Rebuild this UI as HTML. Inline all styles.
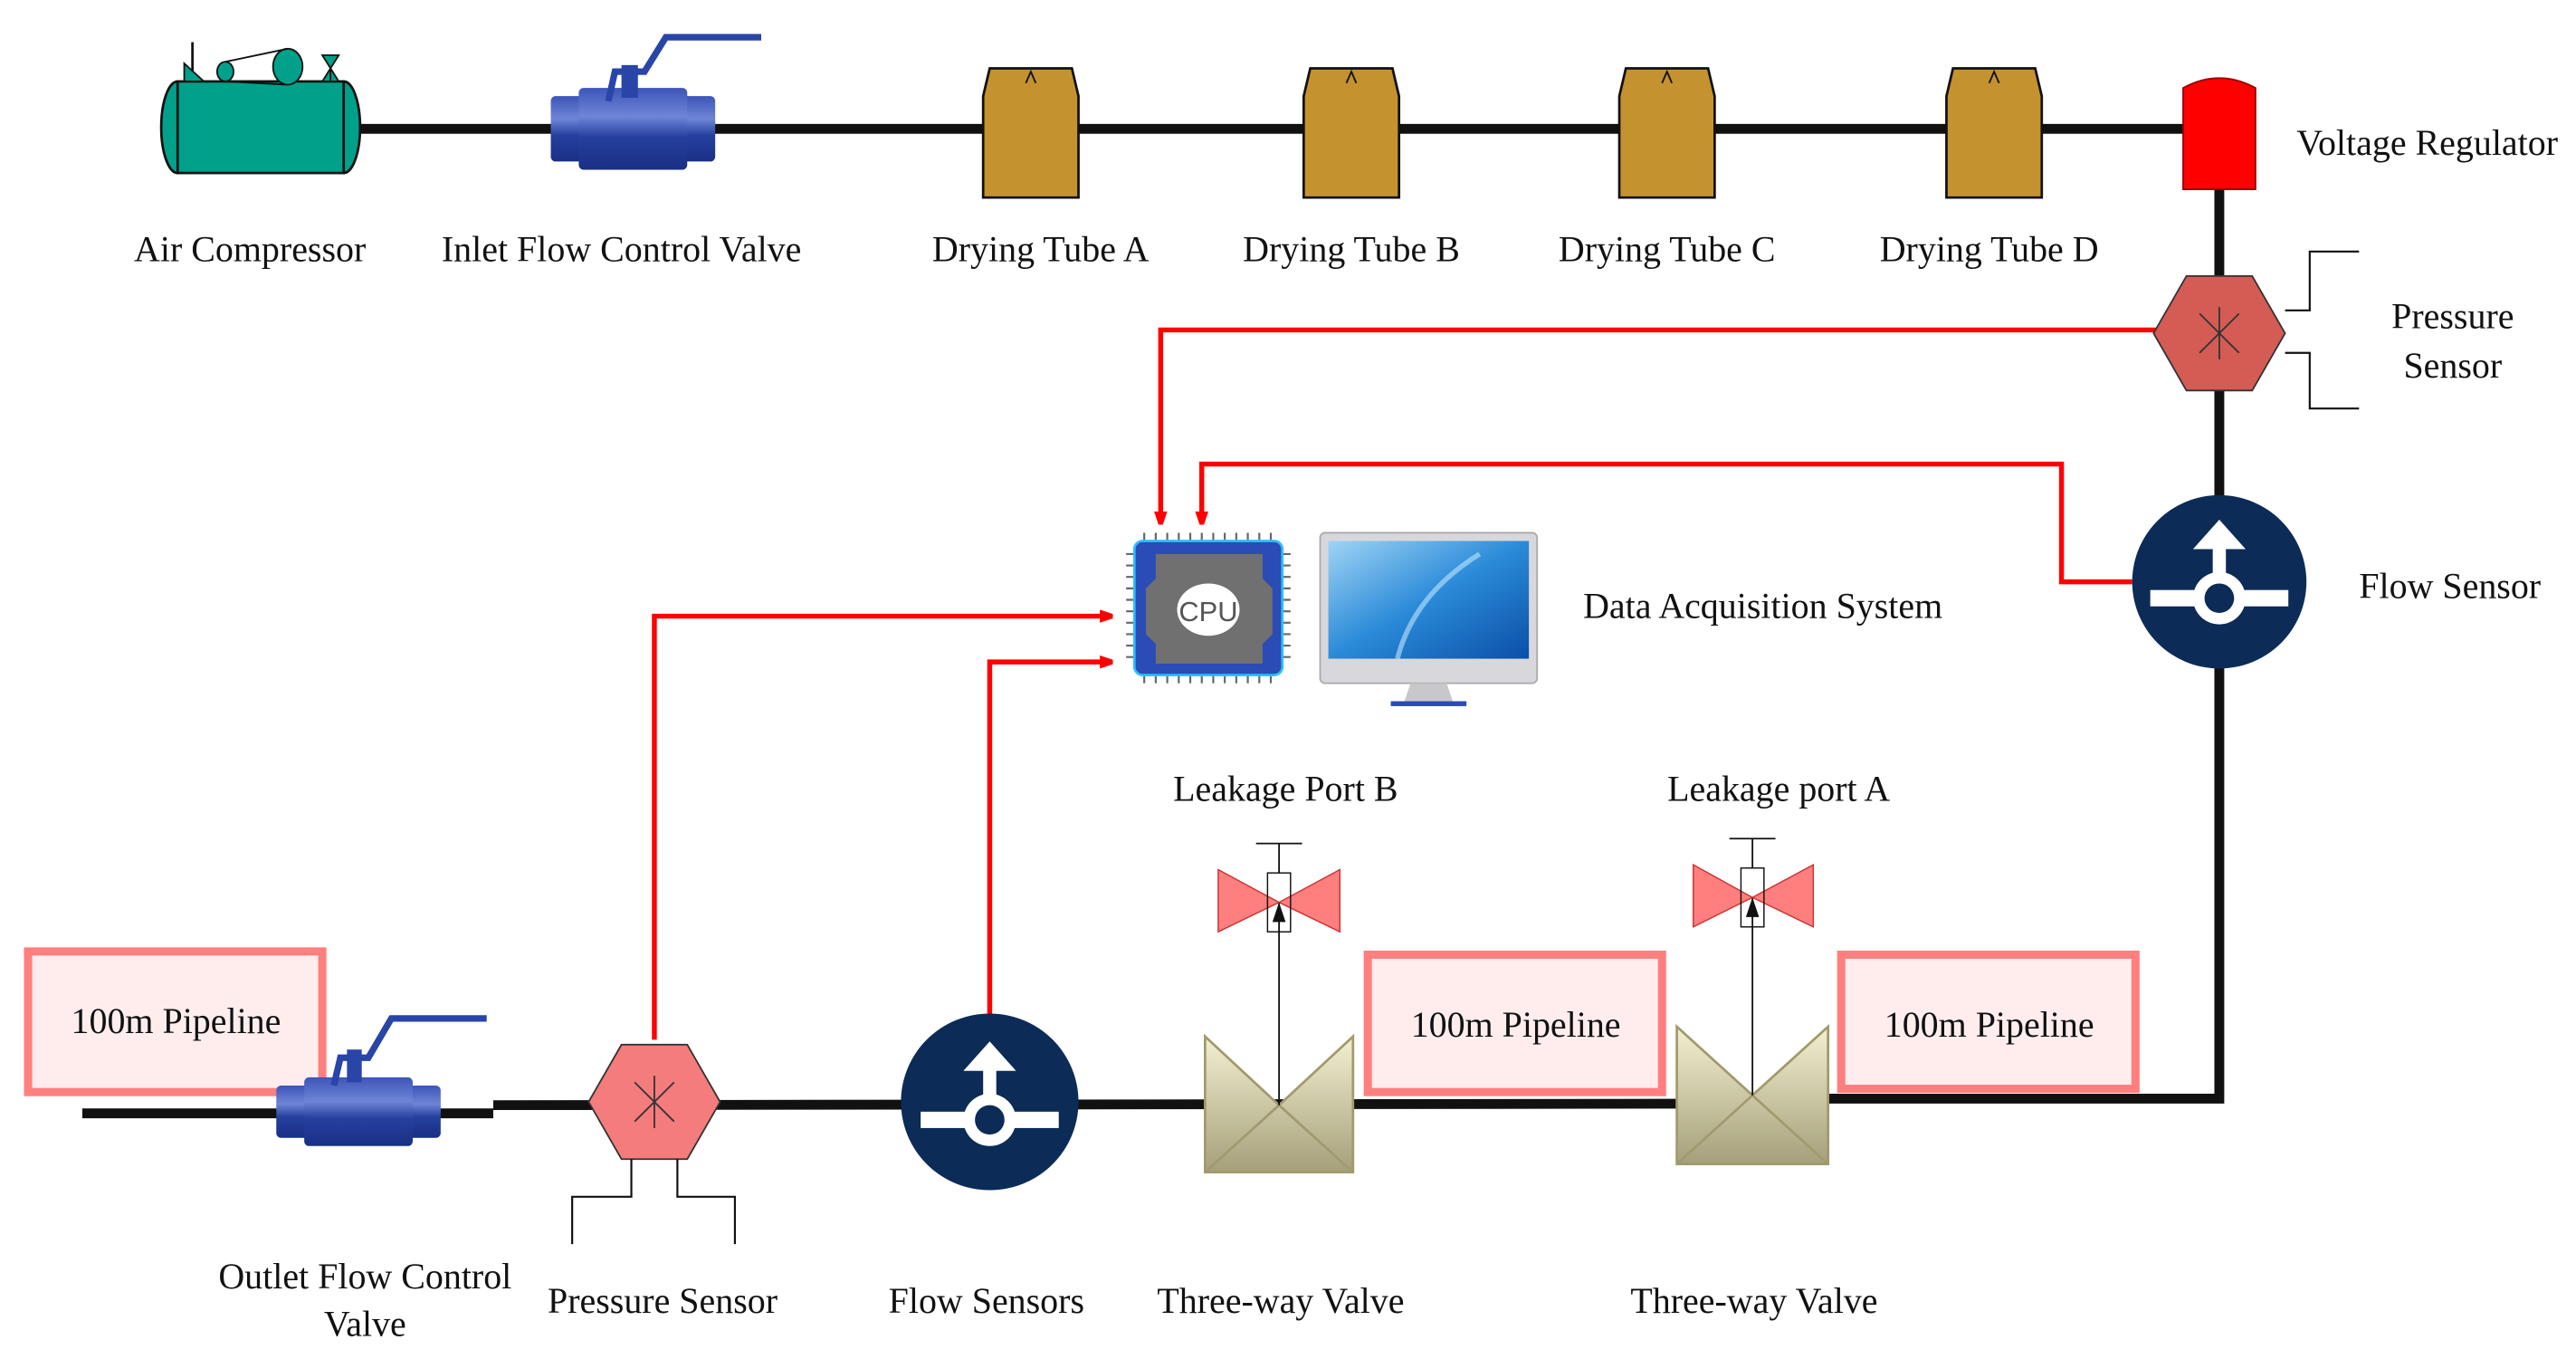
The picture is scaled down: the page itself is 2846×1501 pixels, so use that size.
<!DOCTYPE html>
<html><head><meta charset="utf-8"><style>
html,body{margin:0;padding:0;background:#fff;}
svg{display:block;}
text{font-family:"Liberation Serif",serif;font-size:22px;fill:#111;}
</style></head><body>
<svg width="2846" height="1501" viewBox="0 0 1560 822.7" preserveAspectRatio="none" xmlns="http://www.w3.org/2000/svg">
<defs>
<linearGradient id="bl" x1="0" y1="0" x2="0" y2="1"><stop offset="0" stop-color="#3d55b8"/><stop offset="0.35" stop-color="#6f85d6"/><stop offset="0.6" stop-color="#25409e"/><stop offset="1" stop-color="#1a2f85"/></linearGradient>
<linearGradient id="tv" x1="0" y1="0" x2="0" y2="1"><stop offset="0" stop-color="#f3f0d2"/><stop offset="1" stop-color="#a5a07a"/></linearGradient>
<linearGradient id="mon" x1="0" y1="0" x2="1" y2="1"><stop offset="0" stop-color="#9fd4f5"/><stop offset="0.5" stop-color="#2a8ad8"/><stop offset="1" stop-color="#0b4fa8"/></linearGradient>
<marker id="ar" markerWidth="8" markerHeight="8" refX="7" refY="4" orient="auto" markerUnits="userSpaceOnUse"><path d="M0,0 L12,4 L0,8 z" fill="#f00"/></marker>
</defs>
<g transform="translate(0.07,3.75) scale(0.9955,0.99)">
<!-- top pipe -->
<line x1="212" y1="75" x2="1340" y2="75" stroke="#111" stroke-width="6"/>
<!-- right pipe -->
<polyline points="1350,110 1350,668 1112,668" fill="none" stroke="#111" stroke-width="6"/>
<!-- bottom pipe -->
<line x1="50" y1="677" x2="300" y2="677" stroke="#111" stroke-width="6"/>
<line x1="300" y1="672" x2="1112" y2="671" stroke="#111" stroke-width="6"/>

<!-- Air compressor -->
<ellipse cx="108" cy="74" rx="10" ry="28" fill="#00a08a" stroke="#111" stroke-width="1.5"/>
<ellipse cx="209" cy="74" rx="10" ry="28" fill="#00a08a" stroke="#111" stroke-width="1.5"/>
<rect x="108" y="46" width="101" height="56" fill="#00a08a" stroke="#111" stroke-width="1.5"/>
<line x1="117" y1="22" x2="117" y2="46" stroke="#111" stroke-width="1.5"/>
<polygon points="112,35 112,46 124,46" fill="#00a08a" stroke="#111"/>
<ellipse cx="137" cy="40" rx="5" ry="6" fill="#00a08a" stroke="#111"/>
<ellipse cx="175" cy="37" rx="9" ry="11" fill="#00a08a" stroke="#111"/>
<line x1="137" y1="34" x2="175" y2="26" stroke="#111"/><line x1="137" y1="46" x2="175" y2="48" stroke="#111"/>
<polygon points="196,30 206,30 196,46 206,46" fill="#00a08a" stroke="#111"/>
<line x1="201" y1="46" x2="201" y2="38" stroke="#111"/>

<!-- Inlet valve -->
<rect x="335" y="55" width="100" height="40" rx="3" fill="url(#bl)"/>
<rect x="352" y="50" width="66" height="50" rx="3" fill="url(#bl)"/>
<rect x="378" y="36" width="10" height="20" fill="#2a45a8"/>
<polyline points="370,58 374,40 392,40 405,19 463,19" fill="none" stroke="#2a45a8" stroke-width="4"/>

<!-- Drying tubes -->
<g fill="#c4922f" stroke="#111" stroke-width="1.5">
<path d="M602,38 L652,38 L656,55 L656,117 L598,117 L598,55 Z"/>
<path d="M797,38 L847,38 L851,55 L851,117 L793,117 L793,55 Z"/>
<path d="M989,38 L1039,38 L1043,55 L1043,117 L985,117 L985,55 Z"/>
<path d="M1188,38 L1238,38 L1242,55 L1242,117 L1184,117 L1184,55 Z"/>
</g>
<g stroke="#111" stroke-width="1" fill="none">
<path d="M624,47 L627,40 L630,47"/><path d="M819,47 L822,40 L825,47"/><path d="M1011,47 L1014,40 L1017,47"/><path d="M1210,47 L1213,40 L1216,47"/>
</g>

<!-- Voltage regulator -->
<path d="M1328,50 Q1350,38 1372,50 L1372,112 L1328,112 Z" fill="#f00" stroke="#900" stroke-width="1"/>

<!-- top labels -->
<text x="152" y="156" text-anchor="middle">Air Compressor</text>
<text x="378" y="156" text-anchor="middle">Inlet Flow Control Valve</text>
<text x="633" y="156" text-anchor="middle">Drying Tube A</text>
<text x="822" y="156" text-anchor="middle">Drying Tube B</text>
<text x="1014" y="156" text-anchor="middle">Drying Tube C</text>
<text x="1210" y="156" text-anchor="middle">Drying Tube D</text>
<text x="1397" y="91">Voltage Regulator</text>

<!-- red signal lines -->
<g fill="none" stroke="#f00" stroke-width="3">
<polyline points="1312,198 706,198 706,316" marker-end="url(#ar)"/>
<polyline points="1297,352 1254,352 1254,280 731,280 731,316" marker-end="url(#ar)"/>
<polyline points="398,632 398,373 676,373" marker-end="url(#ar)"/>
<polyline points="602,617 602,401 676,401" marker-end="url(#ar)"/>
</g>

<!-- Right pressure sensor -->
<polygon points="1330,165 1370,165 1390,200 1370,235 1330,235 1310,200" fill="#d45c55" stroke="#333" stroke-width="1"/>
<g stroke="#333" stroke-width="1"><line x1="1338" y1="188" x2="1362" y2="212"/><line x1="1362" y1="188" x2="1338" y2="212"/><line x1="1350" y1="184" x2="1350" y2="216"/></g>
<polyline points="1390,186 1405,186 1405,150 1435,150" fill="none" stroke="#111" stroke-width="1.2"/>
<polyline points="1390,212 1405,212 1405,246 1435,246" fill="none" stroke="#111" stroke-width="1.2"/>
<text x="1492" y="197" text-anchor="middle">Pressure</text>
<text x="1492" y="227" text-anchor="middle">Sensor</text>

<!-- Right flow sensor -->
<circle cx="1350" cy="352" r="53" fill="#0c2b57"/>
<rect x="1308" y="357" width="84" height="10" fill="#fff"/>
<circle cx="1350" cy="362" r="16" fill="#fff"/><circle cx="1350" cy="362" r="9" fill="#0c2b57"/>
<rect x="1346" y="325" width="8" height="22" fill="#fff"/>
<polygon points="1334,332 1350,314 1366,332" fill="#fff"/>
<text x="1435" y="362">Flow Sensor</text>

<!-- CPU -->
<g stroke="#666" stroke-width="1.2">
<path d="M696,322v6M703,322v6M710,322v6M717,322v6M724,322v6M731,322v6M738,322v6M745,322v6M752,322v6M759,322v6M766,322v6M773,322v6"/>
<path d="M696,408v6M703,408v6M710,408v6M717,408v6M724,408v6M731,408v6M738,408v6M745,408v6M752,408v6M759,408v6M766,408v6M773,408v6"/>
<path d="M685,335h6M685,342h6M685,349h6M685,356h6M685,363h6M685,370h6M685,377h6M685,384h6M685,391h6M685,398h6"/>
<path d="M779,335h6M779,342h6M779,349h6M779,356h6M779,363h6M779,370h6M779,377h6M779,384h6M779,391h6M779,398h6"/>
</g>
<rect x="690" y="327" width="90" height="82" rx="5" fill="#2b4bb5" stroke="#2cc0ff" stroke-width="1.5"/>
<path d="M703,335 L768,335 L768,350 L774,356 L774,384 L768,390 L768,402 L703,402 L703,390 L697,384 L697,356 L703,350 Z" fill="#707070"/>
<ellipse cx="735" cy="369" rx="19" ry="16" fill="#fff"/>
<text x="735" y="376" text-anchor="middle" style="font-family:'Liberation Sans',sans-serif;font-size:17px;fill:#555">CPU</text>

<!-- Monitor -->
<rect x="803" y="322" width="132" height="92" rx="3" fill="#d8d8dc" stroke="#aaa"/>
<rect x="808" y="327" width="122" height="72" fill="url(#mon)"/>
<path d="M850,399 Q860,360 900,335" fill="none" stroke="#bfe6ff" stroke-width="3" opacity="0.6"/>
<polygon points="858,414 880,414 884,426 854,426" fill="#c8c8cc"/>
<rect x="846" y="425" width="46" height="3" fill="#2b4bb5"/>
<text x="963" y="374">Data Acquisition System</text>

<!-- Pipeline boxes -->
<g fill="#ffeded" stroke="#ff7f7f" stroke-width="5">
<rect x="17" y="578" width="179" height="86"/>
<rect x="832" y="580" width="179" height="84"/>
<rect x="1120" y="580" width="179" height="82"/>
</g>
<text x="107" y="628" text-anchor="middle">100m Pipeline</text>
<text x="922" y="630" text-anchor="middle">100m Pipeline</text>
<text x="1210" y="630" text-anchor="middle">100m Pipeline</text>

<!-- Outlet valve -->
<rect x="168" y="660" width="100" height="32" rx="3" fill="url(#bl)"/>
<rect x="185" y="655" width="66" height="42" rx="3" fill="url(#bl)"/>
<rect x="211" y="638" width="9" height="20" fill="#2a45a8"/>
<polyline points="203,660 207,643 224,643 238,619 296,619" fill="none" stroke="#2a45a8" stroke-width="4"/>

<!-- Bottom pressure sensor -->
<polygon points="378,635 418,635 438,670 418,705 378,705 358,670" fill="#f47c7c" stroke="#333" stroke-width="1"/>
<g stroke="#333" stroke-width="1"><line x1="386" y1="658" x2="410" y2="682"/><line x1="410" y1="658" x2="386" y2="682"/><line x1="398" y1="654" x2="398" y2="686"/></g>
<polyline points="384,705 384,728 348,728 348,757" fill="none" stroke="#111" stroke-width="1.2"/>
<polyline points="412,705 412,728 447,728 447,757" fill="none" stroke="#111" stroke-width="1.2"/>

<!-- Bottom flow sensor -->
<circle cx="602" cy="670" r="54" fill="#0c2b57"/>
<rect x="560" y="676" width="84" height="10" fill="#fff"/>
<circle cx="602" cy="681" r="16" fill="#fff"/><circle cx="602" cy="681" r="9" fill="#0c2b57"/>
<rect x="598" y="644" width="8" height="22" fill="#fff"/>
<polygon points="586,651 602,633 618,651" fill="#fff"/>

<!-- Three-way valves -->
<g stroke="#a09a6e" stroke-width="1.5">
<path d="M733,630 L778,672 L823,630 L823,713 L733,713 Z" fill="url(#tv)"/>
<path d="M733,713 L778,672 L823,713" fill="none"/>
<path d="M1020,624 L1066,666 L1112,624 L1112,708 L1020,708 Z" fill="url(#tv)"/>
<path d="M1020,708 L1066,666 L1112,708" fill="none"/>
</g>
<!-- stems & leakage valves -->
<g stroke="#111" stroke-width="1">
<line x1="778" y1="672" x2="778" y2="548"/>
<line x1="1066" y1="666" x2="1066" y2="545"/>
<line x1="778" y1="512" x2="778" y2="530"/><line x1="764" y1="512" x2="792" y2="512"/>
<line x1="1066" y1="509" x2="1066" y2="527"/><line x1="1052" y1="509" x2="1080" y2="509"/>
</g>
<g fill="#ff7f7f" stroke="#c33" stroke-width="0.8">
<polygon points="741,528 778,548 741,566"/><polygon points="815,528 778,548 815,566"/>
<polygon points="1030,525 1066,545 1030,563"/><polygon points="1103,525 1066,545 1103,563"/>
</g>
<g fill="none" stroke="#111" stroke-width="0.8">
<rect x="771" y="530" width="14" height="36"/><rect x="1059" y="527" width="14" height="36"/>
</g>
<polygon points="774,560 778,548 782,560" fill="#111"/>
<polygon points="1062,557 1066,545 1070,557" fill="#111"/>

<!-- bottom labels -->
<text x="782" y="486" text-anchor="middle">Leakage Port B</text>
<text x="1082" y="486" text-anchor="middle">Leakage port A</text>
<text x="222" y="784" text-anchor="middle">Outlet Flow Control</text>
<text x="222" y="813" text-anchor="middle">Valve</text>
<text x="403" y="799" text-anchor="middle">Pressure Sensor</text>
<text x="600" y="799" text-anchor="middle">Flow Sensors</text>
<text x="779" y="799" text-anchor="middle">Three-way Valve</text>
<text x="1067" y="799" text-anchor="middle">Three-way Valve</text>
</g>
</svg>
</body></html>
